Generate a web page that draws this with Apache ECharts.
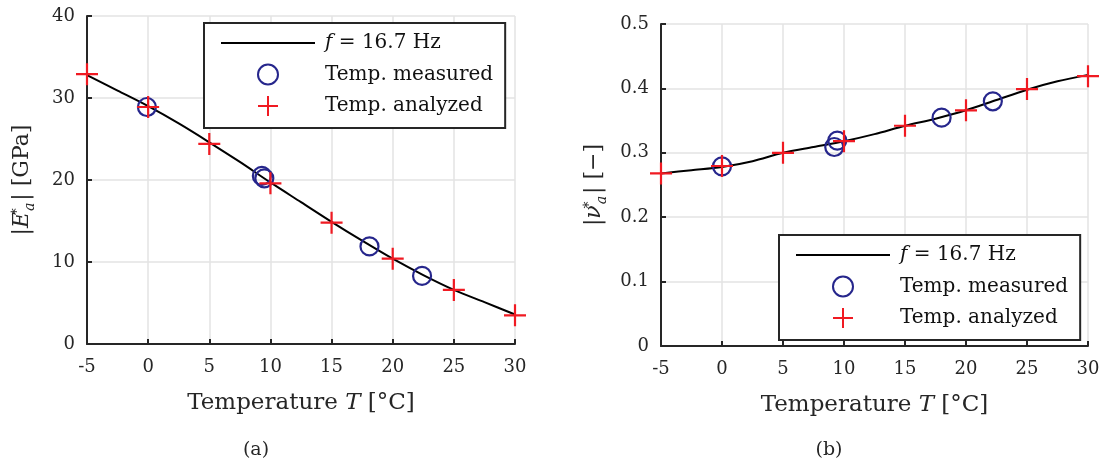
<!DOCTYPE html>
<html>
<head>
<meta charset="utf-8">
<script src="https://cdn.jsdelivr.net/npm/echarts@6/dist/echarts.min.js"></script>
<style>
html,body{margin:0;padding:0;background:#fff;}
#chart{width:1104px;height:465px;}
</style>
</head>
<body>
<div id="chart"></div>
<script>
// ---- data ----
const seriesNames = ['f = 16.7 Hz', 'Temp. measured', 'Temp. analyzed'];
const xTicks = [-5, 0, 5, 10, 15, 20, 25, 30];

// (a) modulus |E*_a| [GPa]
const lineT = [-5, -2.5, 0, 2.5, 5, 7.5, 10, 12.5, 15, 17.5, 20, 22.5, 25, 27.5, 30];
const lineE = [32.8, 30.9, 29.0, 26.9, 24.6, 22.2, 19.7, 17.3, 14.9, 12.6, 10.4, 8.4, 6.6, 5.1, 3.6];
const measT_a = [-0.1, 9.3, 9.5, 18.1, 22.4];
const measE = [28.9, 20.5, 20.2, 11.9, 8.3];
const anaT = [-5, 0, 5, 10, 15, 20, 25, 30];
const anaE = [32.9, 28.9, 24.4, 19.6, 14.8, 10.4, 6.6, 3.5];

// (b) Poisson ratio |nu*_a| [-]
const lineNu = [0.268, 0.273, 0.278, 0.287, 0.300, 0.309, 0.318, 0.329, 0.342, 0.353, 0.366, 0.382, 0.398, 0.411, 0.421];
const measT_b = [0.0, 9.2, 9.45, 18.0, 22.2];
const measNu = [0.279, 0.309, 0.319, 0.3545, 0.380];
const anaNu = [0.268, 0.2795, 0.300, 0.318, 0.342, 0.366, 0.399, 0.419];

const zip = (a, b) => a.map((v, i) => [v, b[i]]);

// ---- styles ----
const FONT = 'DejaVu Serif';
const TXT = '#262626';
const BLUE = '#26268c';
const RED = '#f01a22';
const PLUS = 'path://M4.5,0 L5.5,0 L5.5,4.5 L10,4.5 L10,5.5 L5.5,5.5 L5.5,10 L4.5,10 L4.5,5.5 L0,5.5 L0,4.5 L4.5,4.5 Z';
const LINE_ICON = 'path://M0,0 L47,0 L47,1 L0,1 Z';

function xAxisCfg(gi) {
  return {
    type: 'value', gridIndex: gi, min: -5, max: 30, interval: 5,
    name: 'Temperature {i|T} [°C]', nameLocation: 'middle', nameGap: 48,
    nameTextStyle: { fontFamily: FONT, fontSize: 23, color: TXT,
      rich: { i: { fontFamily: FONT, fontStyle: 'italic', fontSize: 23, color: TXT } } },
    axisLine: { onZero: false, lineStyle: { color: TXT, width: 2 } },
    axisTick: { inside: true, length: 5, lineStyle: { color: TXT, width: 2 } },
    axisLabel: { fontFamily: FONT, fontSize: 18, color: TXT, margin: 14 },
    splitLine: { show: true, lineStyle: { color: '#e3e3e3', width: 1.5 } }
  };
}
function yAxisCfg(gi, max, interval, name, rich, gap) {
  return {
    type: 'value', gridIndex: gi, min: 0, max: max, interval: interval,
    name: name, nameLocation: 'middle', nameGap: gap,
    nameTextStyle: { fontFamily: FONT, fontSize: 22, color: TXT, rich: rich },
    axisLine: { onZero: false, lineStyle: { color: TXT, width: 2 } },
    axisTick: { inside: true, length: 5, lineStyle: { color: TXT, width: 2 } },
    axisLabel: { fontFamily: FONT, fontSize: 18, color: TXT, margin: 12 },
    splitLine: { show: true, lineStyle: { color: '#e3e3e3', width: 1.5 } }
  };
}
const richY = {
  t: { fontFamily: FONT, fontSize: 22, color: TXT, lineHeight: 30 },
  i: { fontFamily: FONT, fontStyle: 'italic', fontSize: 22, color: TXT, lineHeight: 30 },
  sup: { fontFamily: FONT, fontSize: 14, color: TXT, verticalAlign: 'top', lineHeight: 30, width: 1, padding: [0, 0, 8, 0] },
  sub: { fontFamily: FONT, fontStyle: 'italic', fontSize: 14, color: TXT, verticalAlign: 'bottom', lineHeight: 30, padding: [6, 2, 0, 0] }
};

function legendCfg(left, top, textW) {
  return {
    show: true, orient: 'vertical', left: left, top: top,
    data: [
      { name: seriesNames[0], icon: LINE_ICON },
      { name: seriesNames[1] },
      { name: seriesNames[2] }
    ],
    selectedMode: false,
    itemWidth: 94, itemHeight: 20, itemGap: 10.5,
    padding: [10, 12, 12, 17],
    backgroundColor: '#fff', borderColor: TXT, borderWidth: 2,
    textStyle: { fontFamily: FONT, fontSize: 20, color: '#111', width: textW, padding: [0, 0, 0, 5],
      rich: { i: { fontFamily: FONT, fontStyle: 'italic', fontSize: 20, color: '#111' } } },
    formatter: function (n) { return n === seriesNames[0] ? '{i|f} = 16.7 Hz' : n; }
  };
}

function seriesFor(gi, lineY, mT, mY, aY) {
  return [
    { name: seriesNames[0], type: 'line', xAxisIndex: gi, yAxisIndex: gi, smooth: 0.3,
      symbol: 'none', lineStyle: { color: '#000', width: 2 }, itemStyle: { color: '#000' },
      data: zip(lineT, lineY), z: 2 },
    { name: seriesNames[1], type: 'scatter', xAxisIndex: gi, yAxisIndex: gi, symbol: 'circle',
      symbolSize: 18, clip: false,
      itemStyle: { color: 'rgba(0,0,0,0)', borderColor: BLUE, borderWidth: 2.2, opacity: 1 },
      data: zip(mT, mY), z: 3 },
    { name: seriesNames[2], type: 'scatter', xAxisIndex: gi, yAxisIndex: gi, symbol: PLUS,
      symbolSize: 22, clip: false,
      itemStyle: { color: RED, opacity: 1 },
      data: zip(anaT, aY), z: 4 }
  ];
}

const option = {
  animation: false,
  backgroundColor: '#fff',
  grid: [
    { left: 87, right: 589, top: 16, bottom: 121 },
    { left: 661, right: 16, top: 24, bottom: 119 }
  ],
  xAxis: [xAxisCfg(0), xAxisCfg(1)],
  yAxis: [
    yAxisCfg(0, 40, 10, '{t||}{i|E}{sup|∗}{sub|a}{t|| [GPa]}', richY, 50),
    yAxisCfg(1, 0.5, 0.1, '{t||}{i|ν}{sup|∗}{sub|a}{t|| [−]}', richY, 52)
  ],
  legend: [legendCfg(204, 23, 178), legendCfg(779, 235, 172)],
  graphic: [
    { type: 'text', x: 256, y: 450, style: { text: '(a)', font: '19px "DejaVu Serif"', fill: TXT, align: 'center', verticalAlign: 'middle' } },
    { type: 'text', x: 829, y: 450, style: { text: '(b)', font: '19px "DejaVu Serif"', fill: TXT, align: 'center', verticalAlign: 'middle' } }
  ],
  series: [].concat(
    seriesFor(0, lineE, measT_a, measE, anaE),
    seriesFor(1, lineNu, measT_b, measNu, anaNu)
  )
};

const chart = echarts.init(document.getElementById('chart'), null, { renderer: 'canvas' });
chart.setOption(option);
</script>
</body>
</html>
